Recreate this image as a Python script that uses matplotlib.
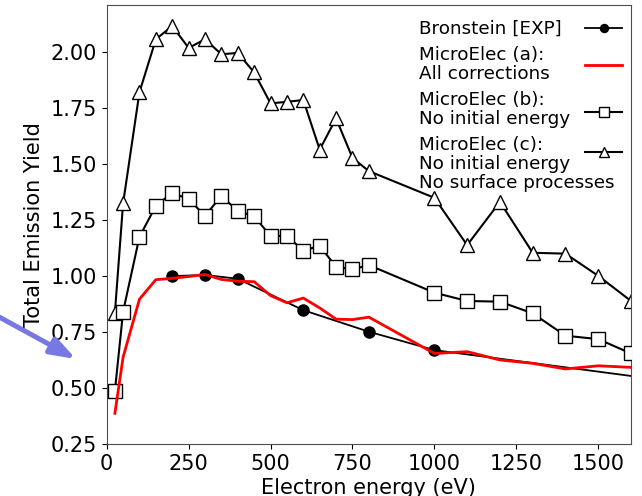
"""
Total emission yield vs electron energy: Bronstein experiment against MicroElec variants.
"""

import matplotlib
matplotlib.use("Agg")
import matplotlib.pyplot as plt
import numpy as np

# ---------------------------------------------------------------------------
# Data
# ---------------------------------------------------------------------------

exp_energy = [200, 300, 400, 600, 800, 1000, 2000]
exp_yield = [1.00, 1.005, 0.988, 0.848, 0.752, 0.670, 0.478]

a_energy = [25, 50, 100, 150, 200, 250, 300, 350, 400, 450, 500, 550, 600, 650,
            700, 750, 800, 1000, 1100, 1200, 1300, 1400, 1500, 1600]
a_yield = [0.388, 0.638, 0.897, 0.984, 0.99, 0.998, 1.007, 0.985, 0.977, 0.975,
           0.913, 0.881, 0.902, 0.858, 0.808, 0.806, 0.817, 0.655, 0.663, 0.626,
           0.611, 0.586, 0.600, 0.593]

b_energy = [25, 50, 100, 150, 200, 250, 300, 350, 400, 450, 500, 550, 600, 650,
            700, 750, 800, 1000, 1100, 1200, 1300, 1400, 1500, 1600]
b_yield = [0.488, 0.841, 1.175, 1.313, 1.371, 1.343, 1.269, 1.357, 1.290, 1.267,
           1.178, 1.180, 1.113, 1.135, 1.041, 1.030, 1.049, 0.926, 0.889, 0.886,
           0.834, 0.734, 0.719, 0.655]

c_energy = [25, 50, 100, 150, 200, 250, 300, 350, 400, 450, 500, 550, 600, 650,
            700, 750, 800, 1000, 1100, 1200, 1300, 1400, 1500, 1600]
c_yield = [0.836, 1.324, 1.820, 2.056, 2.115, 2.017, 2.056, 1.989, 1.995, 1.908,
           1.770, 1.777, 1.785, 1.564, 1.703, 1.527, 1.468, 1.349, 1.138, 1.331,
           1.104, 1.100, 1.001, 0.889]

labels = [
    "Bronstein [EXP]",
    "MicroElec (a):\nAll corrections",
    "MicroElec (b):\nNo initial energy",
    "MicroElec (c):\nNo initial energy\nNo surface processes",
]


def main():
    W, H = 642, 496
    fig = plt.figure(figsize=(W / 100, H / 100), dpi=100)
    ax = fig.add_axes([106.7 / W, 1 - 444.3 / H, (631 - 106.7) / W, (444.3 - 4.7) / H])

    ax.plot(exp_energy, exp_yield, "-o", color="black", lw=1.3, ms=8,
            label=labels[0], zorder=3)
    ax.plot(a_energy, a_yield, "-", color="red", lw=2, label=labels[1], zorder=4)
    ax.plot(b_energy, b_yield, "-s", color="black", lw=1.5, ms=10,
            mfc="white", mec="black", mew=1.0, label=labels[2], zorder=3)
    ax.plot(c_energy, c_yield, "-^", color="black", lw=1.5, ms=10,
            mfc="white", mec="black", mew=1.0, label=labels[3], zorder=2)

    ax.set_xlim(0, 1600)
    ax.set_ylim(0.25, 2.21)
    ax.set_yticks([0.25, 0.50, 0.75, 1.00, 1.25, 1.50, 1.75, 2.00])
    ax.set_xticks([0, 250, 500, 750, 1000, 1250, 1500])
    ax.tick_params(labelsize=15)
    for s in ax.spines.values():
        s.set_color("0.3")

    ax.set_xlabel("Electron energy (eV)", fontsize=15, labelpad=3)
    ax.set_ylabel("Total Emission Yield", fontsize=15, labelpad=5)

    leg = ax.legend(loc="upper right", bbox_to_anchor=(1.0, 0.986),
                    frameon=False, markerfirst=False, markerscale=0.72,
                    fontsize=13.2, handlelength=2.0, borderaxespad=0.1,
                    labelspacing=0.45)
    for t in leg.get_texts():
        t.set_linespacing(1.06)
    # text flush left, handles flush right (default right-aligns whole rows)
    col = leg._legend_handle_box.get_children()[0]
    col.align = "left"
    col.width = 203
    for row in col.get_children():
        row.mode = "expand"
    # handle of the three-line entry sits near its first lines
    h = leg.legend_handles[3]
    h.set_ydata(np.asarray(h.get_ydata()) + 9.0)
    h = leg.legend_handles[2]
    h.set_ydata(np.asarray(h.get_ydata()) - 1.0)

    # blue pointer arrow on the left edge
    ax.annotate("", xy=(76, H - 359), xytext=(-10, H - 312),
                xycoords="figure pixels", textcoords="figure pixels",
                arrowprops=dict(arrowstyle="-|>,head_length=1.0,head_width=0.35",
                                color="#7878e4", lw=3.6, mutation_scale=15,
                                shrinkA=0, shrinkB=0),
                annotation_clip=False)

    fig.savefig("out.png", dpi=100)


if __name__ == "__main__":
    main()
